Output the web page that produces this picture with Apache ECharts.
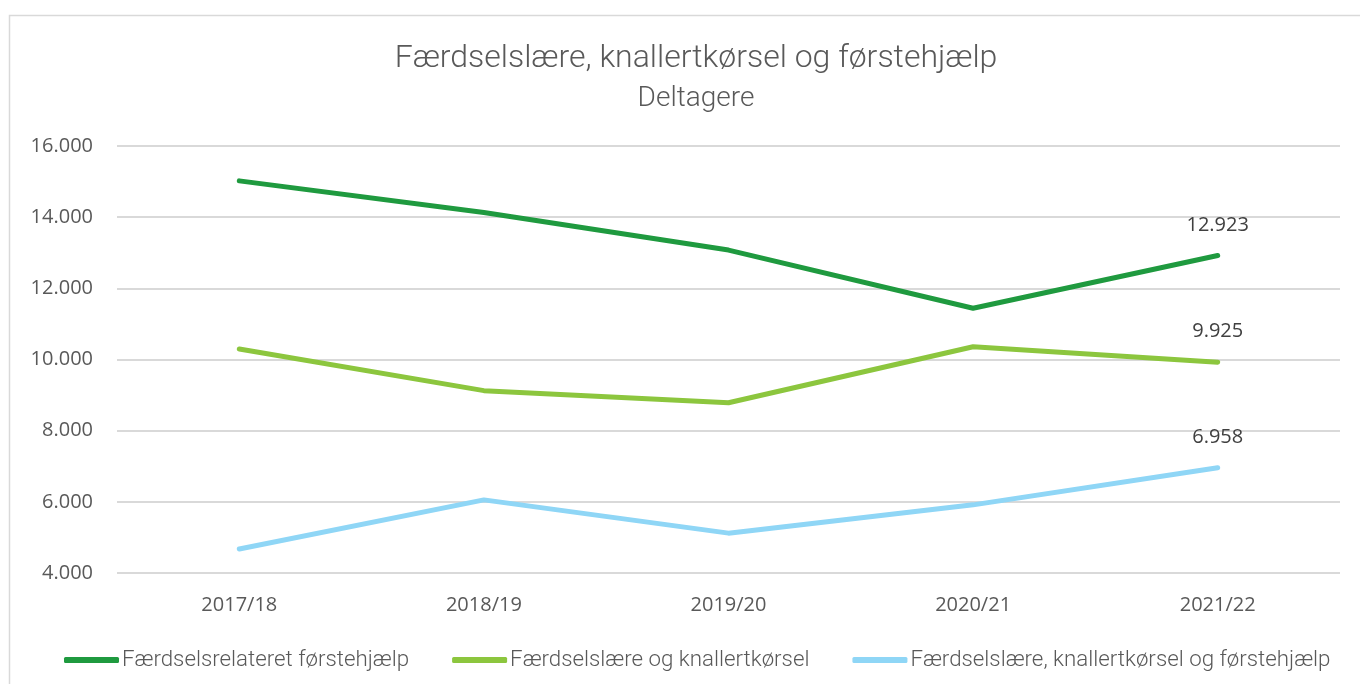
<!DOCTYPE html>
<html lang="da">
<head>
    <meta charset="UTF-8">
    <title>Færdselslære, knallertkørsel og førstehjælp</title>
    <style>
        html, body { margin: 0; padding: 0; background: #fff; }
        #main { width: 1360px; height: 684px; }
    </style>
    <script src="https://cdn.jsdelivr.net/npm/echarts@6/dist/echarts.min.js"></script>
</head>
<body>
<div id="main"></div>
<script type="text/javascript">
    // data
    var years = ['2017/18', '2018/19', '2019/20', '2020/21', '2021/22'];
    var foerstehjaelp = [15020, 14130, 13075, 11440, 12923];
    var knallert = [10295, 9125, 8785, 10360, 9925];
    var begge = [4675, 6055, 5120, 5915, 6958];
    var seriesNames = ['Færdselsrelateret førstehjælp', 'Færdselslære og knallertkørsel', 'Færdselslære, knallertkørsel og førstehjælp'];
    var colors = ['#1f9a3f', '#8cc63e', '#8fd6f6'];

    function fmt(v) {
        return String(v).replace(/\B(?=(\d{3})+(?!\d))/g, '.');
    }

    var allData = [foerstehjaelp, knallert, begge];
    var series = [];
    for (var i = 0; i < 3; i++) {
        // only the last point carries a value label
        var pts = allData[i].map(function (v, j, arr) {
            if (j === arr.length - 1) {
                return { value: v, label: { show: true } };
            }
            return v;
        });
        series.push({
            name: seriesNames[i],
            type: 'line',
            data: pts,
            showSymbol: true,
            symbol: 'circle',
            symbolSize: 1,
            lineStyle: { color: colors[i], width: 5, cap: 'round', join: 'round' },
            itemStyle: { color: colors[i] },
            emphasis: { disabled: true },
            label: {
                show: false,
                position: 'top',
                distance: 20,
                fontFamily: 'Open Sans',
                fontSize: 20,
                color: '#404040',
                formatter: function (p) { return fmt(p.value); }
            }
        });
    }

    var myChart = echarts.init(document.getElementById('main'));
    var option = {
        animation: false,
        backgroundColor: '#fff',
        graphic: [{
            type: 'rect',
            shape: { x: 9.5, y: 15.5, width: 1400, height: 700 },
            style: { fill: 'none', stroke: '#d9d9d9', lineWidth: 1.5 },
            silent: true
        }],
        title: {
            text: 'Færdselslære, knallertkørsel og førstehjælp',
            subtext: 'Deltagere',
            left: 691,
            top: 38,
            textAlign: 'center',
            itemGap: 10,
            textStyle: { fontFamily: 'Roboto', fontWeight: 300, fontSize: 32, color: '#595959' },
            subtextStyle: { fontFamily: 'Roboto', fontWeight: 300, fontSize: 28, color: '#595959' }
        },
        legend: {
            data: seriesNames,
            bottom: 8,
            left: 59,
            icon: 'roundRect',
            itemWidth: 55,
            itemHeight: 6,
            itemGap: 43,
            textStyle: { fontFamily: 'Roboto', fontWeight: 300, fontSize: 22.3, color: '#595959', padding: [0, 0, 0, -2] }
        },
        grid: {
            left: 117,
            right: 20,
            top: 146,
            bottom: 111
        },
        xAxis: {
            type: 'category',
            data: years,
            boundaryGap: true,
            axisLine: { show: false },
            axisTick: { show: false },
            axisLabel: { fontFamily: 'Open Sans', fontSize: 20, color: '#595959', margin: 22 }
        },
        yAxis: {
            type: 'value',
            min: 4000,
            max: 16000,
            interval: 2000,
            axisLine: { show: false },
            axisTick: { show: false },
            splitLine: { lineStyle: { color: '#d9d9d9', width: 2 } },
            axisLabel: {
                fontFamily: 'Open Sans', fontSize: 20, color: '#595959', margin: 24,
                formatter: function (v) { return fmt(v); }
            }
        },
        series: series
    };
    myChart.setOption(option);
</script>
</body>
</html>
